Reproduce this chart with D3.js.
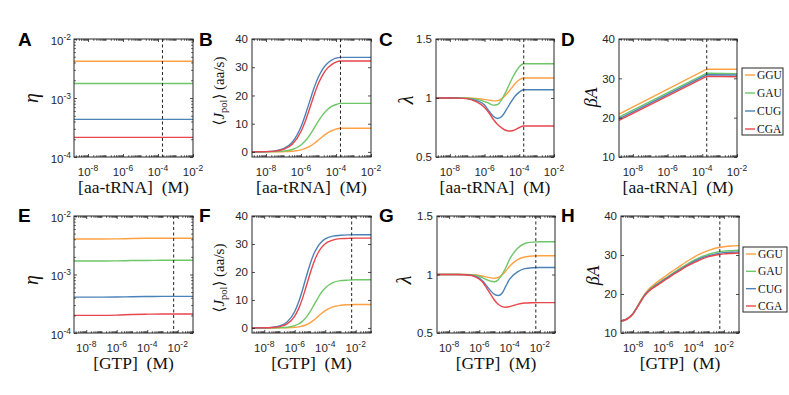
<!DOCTYPE html>
<html>
<head>
<meta charset="utf-8">
<script src="https://cdn.jsdelivr.net/npm/d3@7"></script>
<style>
    body { margin: 0; background: #fff; }
    svg { display: block; }
</style>
</head>
<body>
<div id="chart"></div>
<script>
// ---- DATA ----
const codons = ["GGU", "GAU", "CUG", "CGA"];

// physiological concentrations marked by the dashed lines (M)
const aaDashed = 1.8e-4;
const gtpDashed = 5.4e-3;

// x samples, log10 of concentration (M)
const etaAaLog = [-8.8, -2];
const aaLog = [-8.8, -8, -7.5, -7, -6.5, -6, -5.75, -5.5, -5.25, -5, -4.75, -4.5, -4.25, -4, -3.75, -2];
const betaAaLog = [-8.8, -3.75, -2];
const etaGtpLog = [-8.8, -7, -6, -5, -4, -3, -1];
const gtpLog = [-8.8, -8, -7.5, -7, -6.5, -6, -5.75, -5.5, -5.25, -5, -4.75, -4.5, -4.25, -4, -3.5, -3, -2.5, -2, -1];
const betaGtpLog = [-8.8, -8.5, -8.25, -8, -7.75, -7.5, -7.25, -7, -6.5, -6, -5.5, -5, -4.5, -4, -3.5, -3, -2.5, -2, -1.5, -1];

// A: eta vs [aa-tRNA]
const etaAa = {
    GGU: [4.2e-3, 4.2e-3],
    GAU: [1.76e-3, 1.76e-3],
    CUG: [4.35e-4, 4.35e-4],
    CGA: [2.15e-4, 2.15e-4]
};
// B: <J_pol> vs [aa-tRNA]
const jpolAa = {
    GGU: [0.00, 0.01, 0.03, 0.08, 0.25, 0.74, 1.23, 1.98, 3.00, 4.24, 5.52, 6.64, 7.50, 8.09, 8.40, 8.40],
    GAU: [0.00, 0.03, 0.09, 0.28, 0.85, 2.45, 3.94, 5.98, 8.43, 10.97, 13.2, 14.9, 16.1, 16.8, 17.2, 17.2],
    CUG: [0.02, 0.12, 0.38, 1.17, 3.44, 8.93, 13.2, 18.0, 22.7, 26.6, 29.4, 31.3, 32.5, 33.2, 33.5, 33.5],
    CGA: [0.01, 0.09, 0.29, 0.90, 2.69, 7.23, 10.98, 15.5, 20.2, 24.3, 27.4, 29.6, 30.9, 31.8, 32.2, 32.2]
};
// C: lambda vs [aa-tRNA]
const lambdaAa = {
    GGU: [1, 1, 1, 1, 0.996, 0.988, 0.982, 0.976, 0.978, 0.995, 1.03, 1.075, 1.12, 1.155, 1.17, 1.17],
    GAU: [1, 1, 1, 0.999, 0.99, 0.97, 0.955, 0.94, 0.945, 0.99, 1.06, 1.14, 1.21, 1.265, 1.29, 1.29],
    CUG: [1, 1, 0.999, 0.995, 0.98, 0.94, 0.89, 0.845, 0.826, 0.845, 0.9, 0.96, 1.015, 1.05, 1.07, 1.07],
    CGA: [1, 1, 0.999, 0.995, 0.97, 0.92, 0.875, 0.82, 0.775, 0.745, 0.725, 0.72, 0.73, 0.75, 0.763, 0.763]
};
// D: beta*A vs [aa-tRNA]
const betaAa = {
    GGU: [20.9, 32.35, 32.3],
    GAU: [20.15, 31.3, 31.2],
    CUG: [19.7, 30.9, 30.85],
    CGA: [19.3, 30.5, 30.4]
};
// E: eta vs [GTP]
const etaGtp = {
    GGU: [4.05e-3, 4.05e-3, 4.07e-3, 4.12e-3, 4.16e-3, 4.17e-3, 4.17e-3],
    GAU: [1.70e-3, 1.70e-3, 1.71e-3, 1.73e-3, 1.74e-3, 1.75e-3, 1.75e-3],
    CUG: [4.10e-4, 4.10e-4, 4.12e-4, 4.17e-4, 4.21e-4, 4.22e-4, 4.22e-4],
    CGA: [2.00e-4, 2.00e-4, 2.02e-4, 2.07e-4, 2.10e-4, 2.11e-4, 2.11e-4]
};
// F: <J_pol> vs [GTP]
const jpolGtp = {
    GGU: [0.00, 0.00, 0.01, 0.02, 0.07, 0.23, 0.40, 0.69, 1.15, 1.85, 2.81, 3.96, 5.15, 6.2, 7.55, 8.11, 8.31, 8.37, 8.4],
    GAU: [0.00, 0.01, 0.03, 0.09, 0.27, 0.82, 1.41, 2.36, 3.78, 5.74, 8.1, 10.5, 12.7, 14.3, 16.2, 16.9, 17.1, 17.2, 17.2],
    CUG: [0.01, 0.07, 0.22, 0.70, 2.11, 5.86, 9.17, 13.4, 18.2, 22.7, 26.4, 29.0, 30.7, 31.8, 32.8, 33.1, 33.25, 33.3, 33.3],
    CGA: [0.01, 0.05, 0.15, 0.48, 1.47, 4.22, 6.81, 10.4, 14.8, 19.3, 23.4, 26.5, 28.7, 30.1, 31.4, 31.9, 32.0, 32.1, 32.1]
};
// G: lambda vs [GTP]
const lambdaGtp = {
    GGU: [1, 1, 1, 1, 0.998, 0.992, 0.985, 0.978, 0.971, 0.968, 0.975, 0.995, 1.03, 1.07, 1.125, 1.15, 1.158, 1.16, 1.16],
    GAU: [1, 1, 1, 1, 0.997, 0.985, 0.97, 0.955, 0.942, 0.938, 0.955, 1.0, 1.06, 1.13, 1.22, 1.265, 1.277, 1.28, 1.28],
    CUG: [1, 1, 1, 0.999, 0.993, 0.97, 0.94, 0.9, 0.86, 0.83, 0.82, 0.84, 0.9, 0.96, 1.02, 1.05, 1.058, 1.06, 1.06],
    CGA: [1, 1, 1, 0.998, 0.99, 0.96, 0.93, 0.88, 0.83, 0.78, 0.745, 0.725, 0.72, 0.725, 0.745, 0.756, 0.759, 0.76, 0.76]
};
// H: beta*A vs [GTP]
const betaGtp = {
    GGU: [13.1, 13.4, 14.0, 15.0, 16.6, 18.3, 19.9, 21.1, 22.8, 24.2, 25.6, 26.9, 28.2, 29.4, 30.4, 31.2, 31.8, 32.1, 32.3, 32.4],
    GAU: [13.1, 13.4, 14.0, 15.0, 16.5, 18.2, 19.7, 20.8, 22.4, 23.7, 25.0, 26.3, 27.5, 28.6, 29.5, 30.2, 30.7, 31.0, 31.1, 31.2],
    CUG: [13.1, 13.4, 14.0, 15.0, 16.5, 18.1, 19.6, 20.7, 22.2, 23.5, 24.8, 26.0, 27.2, 28.3, 29.2, 29.8, 30.3, 30.6, 30.7, 30.8],
    CGA: [13.1, 13.4, 14.0, 14.9, 16.4, 18.0, 19.5, 20.6, 22.0, 23.3, 24.6, 25.8, 27.0, 28.0, 28.9, 29.6, 30.0, 30.3, 30.4, 30.5]
};

// tick labels
const xTickExp = [-8, -6, -4, -2];
const etaTickExp = [-4, -3, -2];
const jpolTicks = [0, 10, 20, 30, 40];
const lambdaTicks = [0.5, 1, 1.5];
const betaTicks = [10, 20, 30, 40];

// ---- STYLE ----
const STYLE = {
    colors: { GGU: "#ffa143", GAU: "#6ec667", CUG: "#4b82b8", CGA: "#e8464c" },
    frame: "#262626",
    sans: "'Liberation Sans', Arial, Helvetica, sans-serif",
    serif: "'Liberation Serif', 'Times New Roman', 'DejaVu Serif', serif",
    lineWidth: 1.4
};

const rows = {
    top: { y0: 39, y1: 157 },
    bottom: { y0: 216, y1: 333 }
};

const svg = d3.select("#chart").append("svg")
    .attr("width", 789)
    .attr("height", 395);

function pow10Label(sel, exp) {
    sel.append("tspan").text("10");
    sel.append("tspan").attr("dy", -5).attr("font-size", 8.5).text(exp);
}

function logMinor(lo, hi, majors) {
    const out = [];
    for (let k = Math.floor(lo); k <= Math.ceil(hi); k++) {
        for (let m = 1; m < 10; m++) {
            const v = m * Math.pow(10, k);
            const e = Math.log10(v);
            if (e < lo - 1e-9 || e > hi + 1e-9) continue;
            if (m === 1 && majors.includes(k)) continue;
            out.push(v);
        }
    }
    return out;
}

function ticks(g, p, row, xs, ys, xMajor, xMinor, yMajor, yMinor) {
    const defs = [
        [d3.axisBottom, xs, xMajor, 3, `translate(0,${row.y1})`],
        [d3.axisTop, xs, xMajor, 3, `translate(0,${row.y0})`],
        [d3.axisBottom, xs, xMinor, 1.8, `translate(0,${row.y1})`],
        [d3.axisTop, xs, xMinor, 1.8, `translate(0,${row.y0})`],
        [d3.axisLeft, ys, yMajor, 3, `translate(${p.x0},0)`],
        [d3.axisRight, ys, yMajor, 3, `translate(${p.x1},0)`],
        [d3.axisLeft, ys, yMinor, 1.8, `translate(${p.x0},0)`],
        [d3.axisRight, ys, yMinor, 1.8, `translate(${p.x1},0)`]
    ];
    defs.forEach(([fn, sc, vals, len, tr]) => {
        if (!vals.length) return;
        g.append("g")
            .attr("transform", tr)
            .call(fn(sc).tickValues(vals).tickSize(-len).tickFormat(""))
            .call(s => s.select(".domain").remove())
            .selectAll("line")
            .attr("stroke", STYLE.frame)
            .attr("stroke-width", 0.8);
    });
}

function drawPanel(p) {
    const row = rows[p.row];
    const g = svg.append("g");

    const xs = d3.scaleLog().domain([Math.pow(10, p.xExp[0]), Math.pow(10, p.xExp[1])]).range([p.x0, p.x1]);
    const ys = (p.yLog ? d3.scaleLog() : d3.scaleLinear()).domain(p.yDomain).range([row.y1, row.y0]);

    // curves
    const line = d3.line()
        .x(d => xs(Math.pow(10, d[0])))
        .y(d => ys(d[1]))
        .curve(p.straight ? d3.curveLinear : d3.curveMonotoneX);

    codons.forEach(c => {
        const pts = p.xLog.map((e, i) => [e, p.data[c][i]]);
        g.append("path")
            .attr("d", line(pts))
            .attr("fill", "none")
            .attr("stroke", STYLE.colors[c])
            .attr("stroke-width", STYLE.lineWidth);
    });

    // dashed reference line
    g.append("line")
        .attr("x1", xs(p.dashed)).attr("x2", xs(p.dashed))
        .attr("y1", row.y0).attr("y2", row.y1)
        .attr("stroke", "#222")
        .attr("stroke-width", 1)
        .attr("stroke-dasharray", "3,2.5");

    // frame
    g.append("rect")
        .attr("x", p.x0).attr("y", row.y0)
        .attr("width", p.x1 - p.x0).attr("height", row.y1 - row.y0)
        .attr("fill", "none")
        .attr("stroke", STYLE.frame)
        .attr("stroke-width", 1);

    // ticks
    const xMajor = xTickExp.map(e => Math.pow(10, e));
    const xMinor = logMinor(p.xExp[0], p.xExp[1], xTickExp);
    let yMajor, yMinor;
    if (p.yLog) {
        yMajor = etaTickExp.map(e => Math.pow(10, e));
        yMinor = logMinor(-4, -2, etaTickExp);
    } else {
        yMajor = p.yTicks;
        yMinor = [];
    }
    ticks(g, p, row, xs, ys, xMajor, xMinor, yMajor, yMinor);

    // x tick labels
    xTickExp.forEach(e => {
        g.append("text")
            .attr("x", xs(Math.pow(10, e)))
            .attr("y", row.y1 + 19)
            .attr("text-anchor", "middle")
            .attr("font-family", STYLE.sans)
            .attr("font-size", 11.5)
            .attr("fill", STYLE.frame)
            .call(s => pow10Label(s, e));
    });

    // y tick labels
    if (p.yLog) {
        etaTickExp.forEach(e => {
            g.append("text")
                .attr("x", p.x0 - 3)
                .attr("y", ys(Math.pow(10, e)) + 5.5)
                .attr("text-anchor", "end")
                .attr("font-family", STYLE.sans)
                .attr("font-size", 11.5)
                .attr("fill", STYLE.frame)
                .call(s => pow10Label(s, e));
        });
    } else {
        p.yTicks.forEach(v => {
            g.append("text")
                .attr("x", p.x0 - 4)
                .attr("y", ys(v) + 4.2)
                .attr("text-anchor", "end")
                .attr("font-family", STYLE.sans)
                .attr("font-size", 11.5)
                .attr("fill", STYLE.frame)
                .text(v);
        });
    }

    // x label
    g.append("text")
        .attr("x", (p.x0 + p.x1) / 2)
        .attr("y", row.y1 + 36)
        .attr("text-anchor", "middle")
        .attr("font-family", STYLE.serif)
        .attr("font-size", 17.5)
        .attr("fill", "#111")
        .attr("xml:space", "preserve")
        .text(p.xLabel);

    // y label
    const yl = g.append("text")
        .attr("transform", `translate(${p.yLabelX},${p.yLabelY}) rotate(-90)`)
        .attr("text-anchor", "middle")
        .attr("font-family", STYLE.serif)
        .attr("fill", "#111");
    p.yLabel(yl);

    // panel letter
    g.append("text")
        .attr("x", p.letterX)
        .attr("y", row.y0 + (p.row === "top" ? 7 : 6))
        .attr("font-family", STYLE.sans)
        .attr("font-weight", "bold")
        .attr("font-size", 19)
        .attr("fill", "#000")
        .text(p.letter);

    if (p.legend) drawLegend(p.legend);
}

function drawLegend(box) {
    const g = svg.append("g");
    g.append("rect")
        .attr("x", box.x).attr("y", box.y)
        .attr("width", box.w).attr("height", box.h)
        .attr("fill", "#fff")
        .attr("stroke", STYLE.frame)
        .attr("stroke-width", 1);
    const step = (box.h - 13) / (codons.length - 1);
    codons.forEach((c, i) => {
        const cy = box.y + 6.5 + i * step + 0.5;
        g.append("line")
            .attr("x1", box.x + 3).attr("x2", box.x + 13)
            .attr("y1", cy).attr("y2", cy)
            .attr("stroke", STYLE.colors[c])
            .attr("stroke-width", STYLE.lineWidth);
        g.append("text")
            .attr("x", box.x + 15)
            .attr("y", cy + 4)
            .attr("font-family", STYLE.serif)
            .attr("font-size", 11.5)
            .attr("fill", "#111")
            .text(c);
    });
}

// y-label builders
const etaLabel = t => t.attr("font-size", 20).attr("font-style", "italic").text("η");
const lambdaLabel = t => t.attr("font-size", 20).attr("font-style", "italic").text("λ");
const jpolLabel = t => {
    t.attr("font-size", 15);
    t.append("tspan").text("⟨");
    t.append("tspan").attr("font-style", "italic").text("J");
    t.append("tspan").attr("font-size", 10.5).attr("dy", 3).text("pol");
    t.append("tspan").attr("dy", -3).text("⟩ (aa/s)");
};
const betaLabel = t => {
    t.attr("font-size", 18).attr("font-style", "italic");
    t.append("tspan").text("β");
    t.append("tspan").attr("font-family", "'DejaVu Serif', serif").attr("font-size", 16).text("A");
};

const aaX = "[aa-tRNA]  (M)";
const gtpX = "[GTP]  (M)";

const panels = [
    { letter: "A", letterX: 18, row: "top", x0: 74, x1: 193, xExp: [-8.8, -2], xLog: etaAaLog, data: etaAa,
      yLog: true, yDomain: [1e-4, 1e-2], dashed: aaDashed, xLabel: aaX, yLabel: etaLabel, yLabelX: 38, yLabelY: 98 },
    { letter: "B", letterX: 199, row: "top", x0: 252, x1: 371, xExp: [-8.8, -2], xLog: aaLog, data: jpolAa,
      yDomain: [-1.8, 40], yTicks: jpolTicks, dashed: aaDashed, xLabel: aaX, yLabel: jpolLabel, yLabelX: 224, yLabelY: 91 },
    { letter: "C", letterX: 379, row: "top", x0: 436, x1: 554, xExp: [-8.8, -2], xLog: aaLog, data: lambdaAa,
      yDomain: [0.5, 1.5], yTicks: lambdaTicks, dashed: aaDashed, xLabel: aaX, yLabel: lambdaLabel, yLabelX: 413, yLabelY: 100 },
    { letter: "D", letterX: 561, row: "top", x0: 619, x1: 737, xExp: [-8.8, -2], xLog: betaAaLog, data: betaAa, straight: true,
      yDomain: [10, 40], yTicks: betaTicks, dashed: aaDashed, xLabel: aaX, yLabel: betaLabel, yLabelX: 597, yLabelY: 97,
      legend: { x: 742, y: 68, w: 41, h: 67 } },
    { letter: "E", letterX: 18, row: "bottom", x0: 74, x1: 193, xExp: [-8.8, -1], xLog: etaGtpLog, data: etaGtp,
      yLog: true, yDomain: [1e-4, 1e-2], dashed: gtpDashed, xLabel: gtpX, yLabel: etaLabel, yLabelX: 38, yLabelY: 280 },
    { letter: "F", letterX: 199, row: "bottom", x0: 252, x1: 371, xExp: [-8.8, -1], xLog: gtpLog, data: jpolGtp,
      yDomain: [-1.8, 40], yTicks: jpolTicks, dashed: gtpDashed, xLabel: gtpX, yLabel: jpolLabel, yLabelX: 224, yLabelY: 278 },
    { letter: "G", letterX: 379, row: "bottom", x0: 437, x1: 555, xExp: [-8.8, -1], xLog: gtpLog, data: lambdaGtp,
      yDomain: [0.5, 1.5], yTicks: lambdaTicks, dashed: gtpDashed, xLabel: gtpX, yLabel: lambdaLabel, yLabelX: 411, yLabelY: 280 },
    { letter: "H", letterX: 561, row: "bottom", x0: 621, x1: 739, xExp: [-8.8, -1], xLog: betaGtpLog, data: betaGtp,
      yDomain: [10, 40], yTicks: betaTicks, dashed: gtpDashed, xLabel: gtpX, yLabel: betaLabel, yLabelX: 599, yLabelY: 275,
      legend: { x: 743, y: 247, w: 44, h: 65 } }
];

panels.forEach(drawPanel);
</script>
</body>
</html>
